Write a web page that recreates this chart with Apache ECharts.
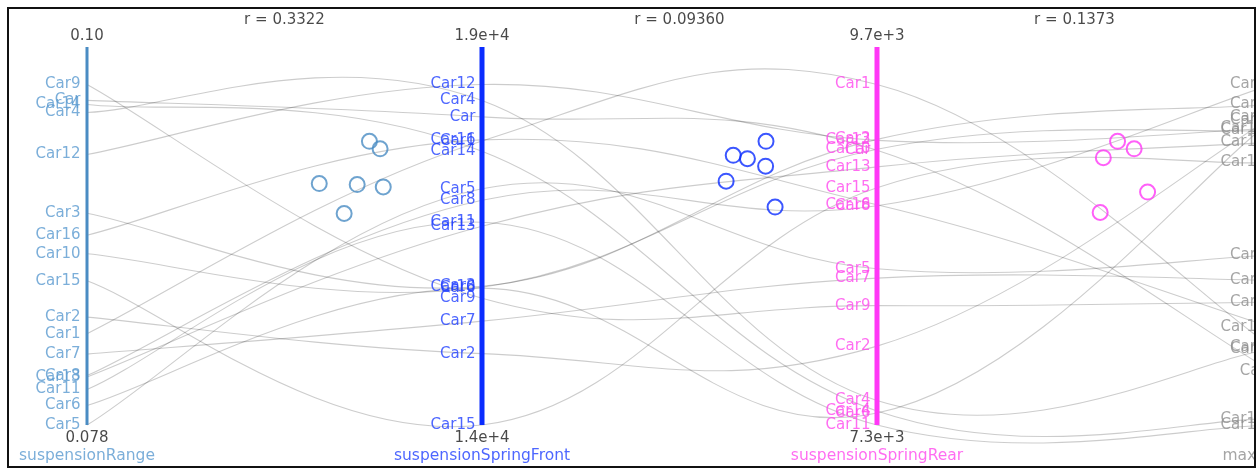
<!DOCTYPE html>
<html>
<head>
<meta charset="utf-8">
<title>Suspension parallel coordinates</title>
<script src="https://cdn.jsdelivr.net/npm/echarts@6/dist/echarts.min.js"></script>
<style>
  html, body { margin: 0; padding: 0; background: #fff; }
  #chart { width: 1258px; height: 470px; }
</style>
</head>
<body>
<div id="chart"></div>
<script>
// ---- data -------------------------------------------------------------
const cars = ['Car', 'Car1', 'Car2', 'Car3', 'Car4', 'Car5', 'Car6', 'Car7', 'Car8',
              'Car9', 'Car10', 'Car11', 'Car12', 'Car13', 'Car14', 'Car15', 'Car16'];

const dimensions = ['suspensionRange', 'suspensionSpringFront', 'suspensionSpringRear', 'maxSteering'];
const dimMin = [0.078, 14000, 7300, 30];
const dimMax = [0.100, 19000, 9700, 40];
const topTickLabels = ['0.10', '1.9e+4', '9.7e+3', '40'];
const bottomTickLabels = ['0.078', '1.4e+4', '7.3e+3', '30'];
const correlations = ['r = 0.3322', 'r = 0.09360', 'r = 0.1373'];

// one value per car, in the order of `cars`
const suspensionRange = [0.09897, 0.08390, 0.08497, 0.09168, 0.09819, 0.07800, 0.07926, 0.08258, 0.08119,
                         0.10000, 0.08906, 0.08029, 0.09548, 0.08110, 0.09871, 0.08732, 0.09026];
const suspensionSpringFront = [18524, 18171, 15048, 16038, 18765, 17468, 16009, 15525, 17299,
                               15862, 16023, 16977, 19000, 16918, 18018, 14000, 18186];
const suspensionSpringRear = [9236, 9700, 7856, 9313, 7472, 8401, 7384, 8335, 8845,
                              8141, 9243, 7300, 9306, 9119, 7399, 8972, 8852];
const maxSteering = [31.58, 32.29, 39.03, 39.41, 32.23, 34.99, 38.94, 34.25, 40.00,
                     33.61, 38.65, 30.00, 38.71, 38.30, 30.18, 37.71, 32.87];

// pair glyphs between neighbouring axes: [fraction across the gap, relative height]
const glyphsRangeFront = [[0.715, 0.833], [0.742, 0.811], [0.588, 0.709], [0.684, 0.706], [0.750, 0.699], [0.651, 0.621]];
const glyphsFrontRear = [[0.719, 0.833], [0.636, 0.792], [0.672, 0.782], [0.718, 0.760], [0.618, 0.716], [0.742, 0.640]];
const glyphsRearSteer = [[0.609, 0.833], [0.651, 0.811], [0.573, 0.785], [0.685, 0.684], [0.565, 0.624]];

// ---- chart ------------------------------------------------------------
const columns = [suspensionRange, suspensionSpringFront, suspensionSpringRear, maxSteering];
const pairGlyphs = [glyphsRangeFront, glyphsFrontRear, glyphsRearSteer];
const CHART_W = 1258;
const PLOT_LEFT = 87;
const AXIS_GAP = 395;                // pixels between neighbouring axes (last axis sits past the edge)
const AXIS_TOP = 1.11;               // axis line runs a little past the data maximum
const TENSION = 0.2;                 // cardinal spline handle length (1/6 = Catmull-Rom)
const FONT = 'DejaVu Sans';
const axisColors = ['#4a8cc3', '#0a2cff', '#ff38f6', '#8a8a8a'];
const labelColors = ['#5a9ad0', '#2040ff', '#ff48ee', '#8e8e8e'];
const axisWidths = [3, 5, 5, 5];

const norm = (d, v) => (v - dimMin[d]) / (dimMax[d] - dimMin[d]);

const series = [];

// one cardinal spline per car, passing through its value on every axis
series.push({
  type: 'custom',
  coordinateSystem: 'cartesian2d',
  silent: true,
  clip: false,
  z: 1,
  data: cars.map((car, i) => ({ name: car, value: columns.map((col, d) => norm(d, col[i])) })),
  renderItem: (params, api) => {
    const pts = dimensions.map((_, d) => api.coord([d, api.value(d)]));
    let path = 'M' + pts[0][0] + ',' + pts[0][1];
    for (let k = 0; k < pts.length - 1; k++) {
      const p0 = pts[k - 1] || pts[k];
      const p1 = pts[k];
      const p2 = pts[k + 1];
      const p3 = pts[k + 2] || pts[k + 1];
      const c1x = p1[0] + (p2[0] - p0[0]) * TENSION, c1y = p1[1] + (p2[1] - p0[1]) * TENSION;
      const c2x = p2[0] - (p3[0] - p1[0]) * TENSION, c2y = p2[1] - (p3[1] - p1[1]) * TENSION;
      path += ' C' + c1x + ',' + c1y + ' ' + c2x + ',' + c2y + ' ' + p2[0] + ',' + p2[1];
    }
    return {
      type: 'path',
      shape: { pathData: path },
      style: { fill: 'none', stroke: 'rgba(0,0,0,0.2)', lineWidth: 1.1 }
    };
  }
});

dimensions.forEach((dim, d) => {
  // vertical axis bar
  series.push({
    type: 'line',
    data: [[d, 0], [d, AXIS_TOP]],
    symbol: 'none',
    clip: false,
    silent: true,
    lineStyle: { color: axisColors[d], width: axisWidths[d] },
    z: 3
  });
  // car names beside the axis
  series.push({
    type: 'scatter',
    symbolSize: 1,
    clip: false,
    silent: true,
    itemStyle: { color: 'rgba(0,0,0,0)' },
    data: cars.map((car, i) => ({ value: [d, norm(d, columns[d][i])], name: car })),
    label: {
      show: true, position: 'left', distance: 6, formatter: '{b}',
      color: labelColors[d], fontSize: 15, fontFamily: FONT
    },
    z: 4
  });
  // max / min tick labels and the axis name
  series.push({
    type: 'scatter',
    symbolSize: 1,
    clip: false,
    silent: true,
    itemStyle: { color: 'rgba(0,0,0,0)' },
    data: [
      { value: [d, AXIS_TOP], name: topTickLabels[d],
        label: { position: 'top', distance: 3, color: '#1a1a1a' } },
      { value: [d, 0], name: bottomTickLabels[d],
        label: { position: 'bottom', distance: 5, color: '#1a1a1a' } },
      { value: [d, 0], name: dim,
        label: { position: 'bottom', distance: 22, color: labelColors[d], fontSize: 15.5 } }
    ],
    label: { show: true, formatter: '{b}', fontSize: 15, fontFamily: FONT },
    z: 4
  });
});

// correlation captions and glyphs for each neighbouring pair
correlations.forEach((r, g) => {
  series.push({
    type: 'scatter',
    symbolSize: 1,
    clip: false,
    silent: true,
    itemStyle: { color: 'rgba(0,0,0,0)' },
    data: [{ value: [g + 0.5, AXIS_TOP], name: r }],
    label: { show: true, position: 'top', distance: 19, formatter: '{b}',
             color: '#1a1a1a', fontSize: 15, fontFamily: FONT },
    z: 4
  });
  series.push({
    type: 'scatter',
    symbol: 'circle',
    symbolSize: 15,
    clip: false,
    silent: true,
    data: pairGlyphs[g].map(p => [g + p[0], p[1]]),
    itemStyle: { color: 'rgba(255,255,255,0)', borderColor: axisColors[g], borderWidth: 2 },
    z: 5
  });
});

const chart = echarts.init(document.getElementById('chart'), null, { renderer: 'canvas' });
chart.setOption({
  animation: false,
  backgroundColor: '#ffffff',
  grid: { left: PLOT_LEFT, right: 0, top: 47, bottom: 45 },
  // x runs in "axis index" units; the grid ends at the canvas edge, before the last axis
  xAxis: { type: 'value', min: 0, max: (CHART_W - PLOT_LEFT) / AXIS_GAP, show: false },
  yAxis: { type: 'value', min: 0, max: AXIS_TOP, show: false },
  series: series,
  graphic: [
    { type: 'rect', z: 100, shape: { x: 1256, y: 0, width: 20, height: 470 },
      style: { fill: '#ffffff' }, silent: true },
    { type: 'rect', z: 101, shape: { x: 8, y: 8, width: 1247, height: 459 },
      style: { fill: 'none', stroke: '#111111', lineWidth: 2 }, silent: true }
  ]
});
</script>
</body>
</html>
